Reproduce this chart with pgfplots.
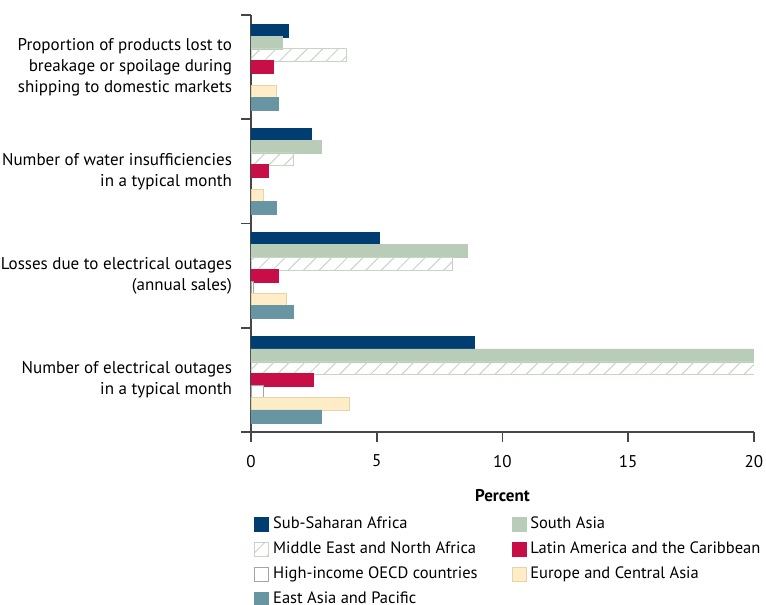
\documentclass[border=0pt]{standalone}
\usepackage{pgfplots}
\pgfplotsset{compat=1.18}
\usepackage{fontspec}
\setmainfont{PT Sans}
\usetikzlibrary{patterns.meta}

\definecolor{ssa}{RGB}{0,62,114}
\definecolor{sa}{RGB}{185,204,183}
\definecolor{menaline}{RGB}{197,214,195}
\definecolor{lac}{RGB}{200,14,70}
\definecolor{higrey}{RGB}{165,165,165}
\definecolor{eca}{RGB}{255,237,200}
\definecolor{ecaedge}{RGB}{230,211,168}
\definecolor{eap}{RGB}{103,150,162}
\definecolor{axisgrey}{RGB}{70,70,70}

\begin{document}
\begin{tikzpicture}[font=\fontsize{8.5}{10.5}\selectfont]
\useasboundingbox (-125.5pt,-86.5pt) rectangle (257.5pt,216pt);
\begin{axis}[
    scale only axis,
    width=251.5pt, height=208.5pt,
    xbar,
    bar width=0.125,
    xmin=0, xmax=20,
    ymin=-0.5, ymax=3.5,
    y dir=reverse,
    axis lines=left,
    axis line style={-, axisgrey, line width=0.8pt},
    tick style={axisgrey, line width=0.8pt},
    tick align=outside,
    major tick length=5pt,
    /pgf/number format/assume math mode=true,
    xtick={0,5,10,15,20},
    xticklabel style={yshift=-3pt},
    xlabel={\textbf{Percent}},
    xlabel style={yshift=-4pt},
    ytick={-0.5,0.5,1.5,2.5,3.5},
    yticklabels={,,,,},
    extra y ticks={0,1,2,3},
    extra y tick labels={
        {Proportion of products lost to\\breakage or spoilage during\\shipping to domestic markets},
        {Number of water insufficiencies\\in a typical month},
        {Losses due to electrical outages\\(annual sales)},
        {Number of electrical outages\\in a typical month}},
    extra y tick style={major tick length=0pt},
    yticklabel style={align=right, xshift=-6pt},
    legend columns=2,
    legend cell align=left,
    legend style={at={(-0.006,-0.183)}, anchor=north west, draw=none, fill=none,
        font=\fontsize{8.25}{10}\selectfont,
        /tikz/every even column/.append style={column sep=15pt},
        row sep=1.1pt},
    legend image code/.code={\draw[#1,bar shift=0pt] (0pt,-3.5pt) rectangle (7pt,3.5pt);},
]

% Sub-Saharan Africa
\addplot[fill=ssa, draw=ssa, bar shift=-0.351] coordinates {(1.5,0) (2.4,1) (5.1,2) (8.9,3)};
\addlegendentry{Sub-Saharan Africa}
% South Asia
\addplot[fill=sa, draw=sa, bar shift=-0.234] coordinates {(1.23,0) (2.8,1) (8.6,2) (20,3)};
\addlegendentry{South Asia}
% Middle East and North Africa (hatched)
\addplot[draw=menaline, fill=white, pattern={Lines[angle=45,distance=5.5pt,line width=0.5pt]},
    pattern color=menaline, bar shift=-0.117] coordinates {(3.8,0) (1.7,1) (8.0,2) (20,3)};
\addlegendentry{Middle East and North Africa}
% Latin America and the Caribbean
\addplot[fill=lac, draw=lac, bar shift=0] coordinates {(0.9,0) (0.7,1) (1.1,2) (2.5,3)};
\addlegendentry{Latin America and the Caribbean}
% High-income OECD countries
\addplot[fill=white, draw=higrey, bar shift=0.117] coordinates {(0.08,2) (0.5,3)};
\addlegendentry{High-income OECD countries}
% Europe and Central Asia
\addplot[fill=eca, draw=ecaedge, bar shift=0.234] coordinates {(1.0,0) (0.5,1) (1.4,2) (3.9,3)};
\addlegendentry{Europe and Central Asia}
% East Asia and Pacific
\addplot[fill=eap, draw=eap, bar shift=0.351] coordinates {(1.1,0) (1.0,1) (1.7,2) (2.8,3)};
\addlegendentry{East Asia and Pacific}

\end{axis}
\end{tikzpicture}
\end{document}
